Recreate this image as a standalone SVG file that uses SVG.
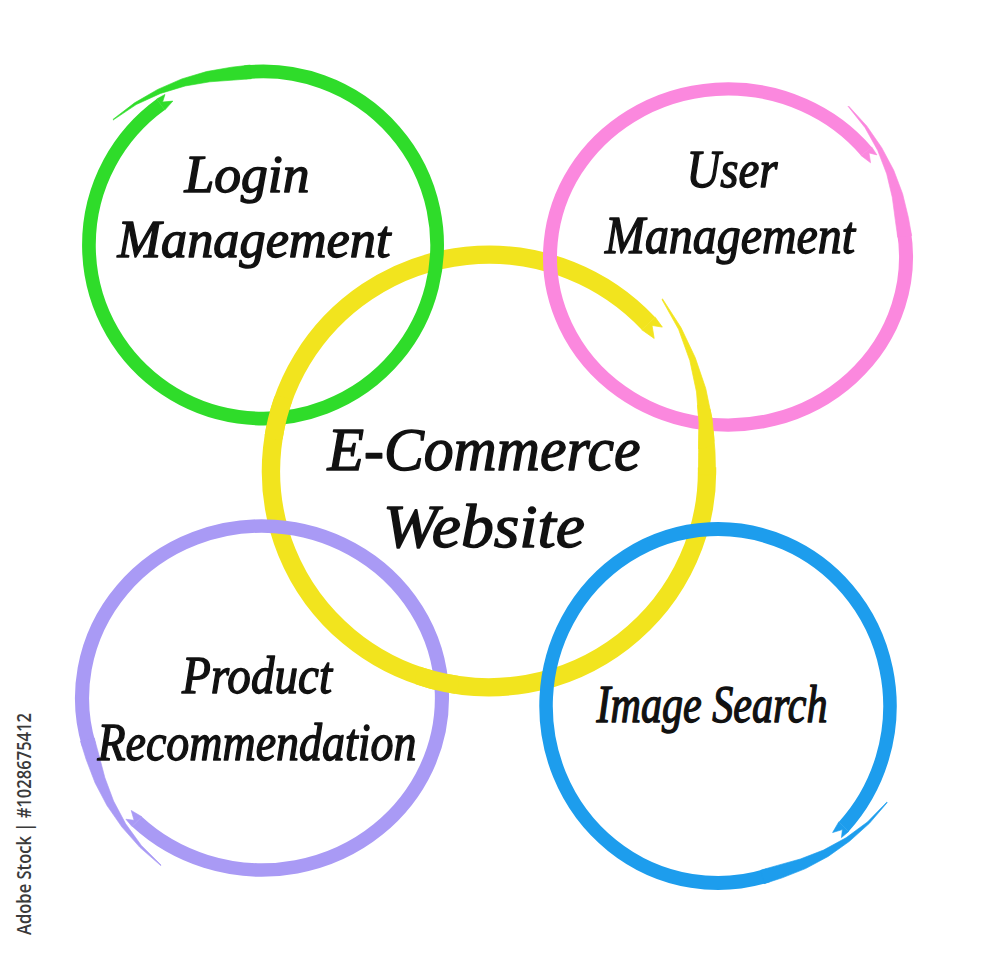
<svg xmlns="http://www.w3.org/2000/svg" xmlns:xlink="http://www.w3.org/1999/xlink" width="1000" height="955" viewBox="0 0 1000 955">
<style>
.arc{fill:none;stroke:currentColor;stroke-width:var(--sw,14)}
.tail{fill:currentColor;stroke:currentColor;stroke-width:0.6;stroke-linejoin:round}
.lbl{font-family:"Liberation Serif","Times New Roman",serif;font-style:italic;font-size:52px;fill:#111;stroke:#111;stroke-width:1.4;stroke-linejoin:round;text-anchor:middle}
.big{font-size:62px}
.wm{font-family:"Open Sans","Noto Sans",sans-serif;font-size:20px;font-weight:600;fill:#3a3a3a}
.hubring{--sw:15}
</style>
<defs>
<g id="brush">
<path class="arc" d="M128.0,123.7 A178,178 0 1 1 172.7,43.1"/>
<path class="tail" d="M200.3,0 L194.3,27.3 L185.0,53.1 L173.1,77.1 L158.6,99.1 L141.9,119.0 L128.5,133.1 L118.8,123.0 L131.6,110.4 L149.2,93.3 L165.8,73.8 L180.2,51.7 L191.9,27.0 L199.7,0 Z"/>
<path class="tail" d="M179.5,44.8 L176.0,53.8 L172.9,46.3 L165.5,53.8 L165.9,41.4 Z"/>
</g>
<g id="brush-hub">
<path class="arc" d="M128.0,123.7 A178,178 0 1 1 177.9,6.2"/>
<path class="tail" d="M200.3,0 L194.3,27.3 L185.0,53.1 L173.1,77.1 L158.6,99.1 L141.9,119.0 L128.5,133.1 L118.8,123.0 L131.6,110.4 L149.2,93.3 L165.8,73.8 L180.2,51.7 L191.9,27.0 L199.7,0 Z"/>
<path class="tail" d="M185.4,6.5 L183.8,16.3 L178.8,9.4 L172.5,18.2 L170.4,6.0 Z"/>
</g>
<clipPath id="yclip" clipPathUnits="userSpaceOnUse">
<circle cx="278" cy="418" r="22"/>
<circle cx="437" cy="681" r="22"/>
<circle cx="698" cy="427" r="22"/>
</clipPath>
</defs>
<rect width="1000" height="955" fill="#fff"/>
<g id="hub">
<use class="hubring" href="#brush-hub" color="#f2e41e" transform="translate(489,471) scale(1.225,1.215) rotate(-45)"/>
<text class="lbl big" x="484" y="470" textLength="313" lengthAdjust="spacingAndGlyphs">E-Commerce</text>
<text class="lbl big" x="484" y="547" textLength="202" lengthAdjust="spacingAndGlyphs">Website</text>
</g>
<g id="login">
<use href="#brush" color="#2fdc2a" transform="translate(263,245) scale(0.978,0.975) rotate(-140)"/>
<text class="lbl" x="247" y="192" textLength="125" lengthAdjust="spacingAndGlyphs">Login</text>
<text class="lbl" x="254" y="257" textLength="273" lengthAdjust="spacingAndGlyphs">Management</text>
</g>
<g id="user">
<use href="#brush" color="#fb88de" transform="translate(728,257) scale(1.0,0.944) rotate(-53)"/>
<text class="lbl" x="732" y="187" textLength="91" lengthAdjust="spacingAndGlyphs">User</text>
<text class="lbl" x="730" y="253" textLength="250" lengthAdjust="spacingAndGlyphs">Management</text>
</g>
<g id="product">
<use href="#brush" color="#a99af5" transform="translate(262,698) scale(1.011,0.966) rotate(120)"/>
<text class="lbl" x="257" y="693" textLength="150" lengthAdjust="spacingAndGlyphs">Product</text>
<text class="lbl" x="257" y="760" textLength="319" lengthAdjust="spacingAndGlyphs">Recommendation</text>
</g>
<g id="image">
<use href="#brush" color="#1d9ded" transform="translate(718,706) scale(0.966,0.994) rotate(29)"/>
<text class="lbl" x="712" y="722" textLength="231" lengthAdjust="spacingAndGlyphs">Image Search</text>
</g>
<g id="overlaps" clip-path="url(#yclip)">
<use class="hubring" href="#brush-hub" color="#f2e41e" transform="translate(489,471) scale(1.225,1.215) rotate(-45)"/>
</g>
<text class="wm" transform="translate(31,935) rotate(-90)" x="0" y="0" textLength="222" lengthAdjust="spacingAndGlyphs">Adobe Stock | #1028675412</text>
</svg>
